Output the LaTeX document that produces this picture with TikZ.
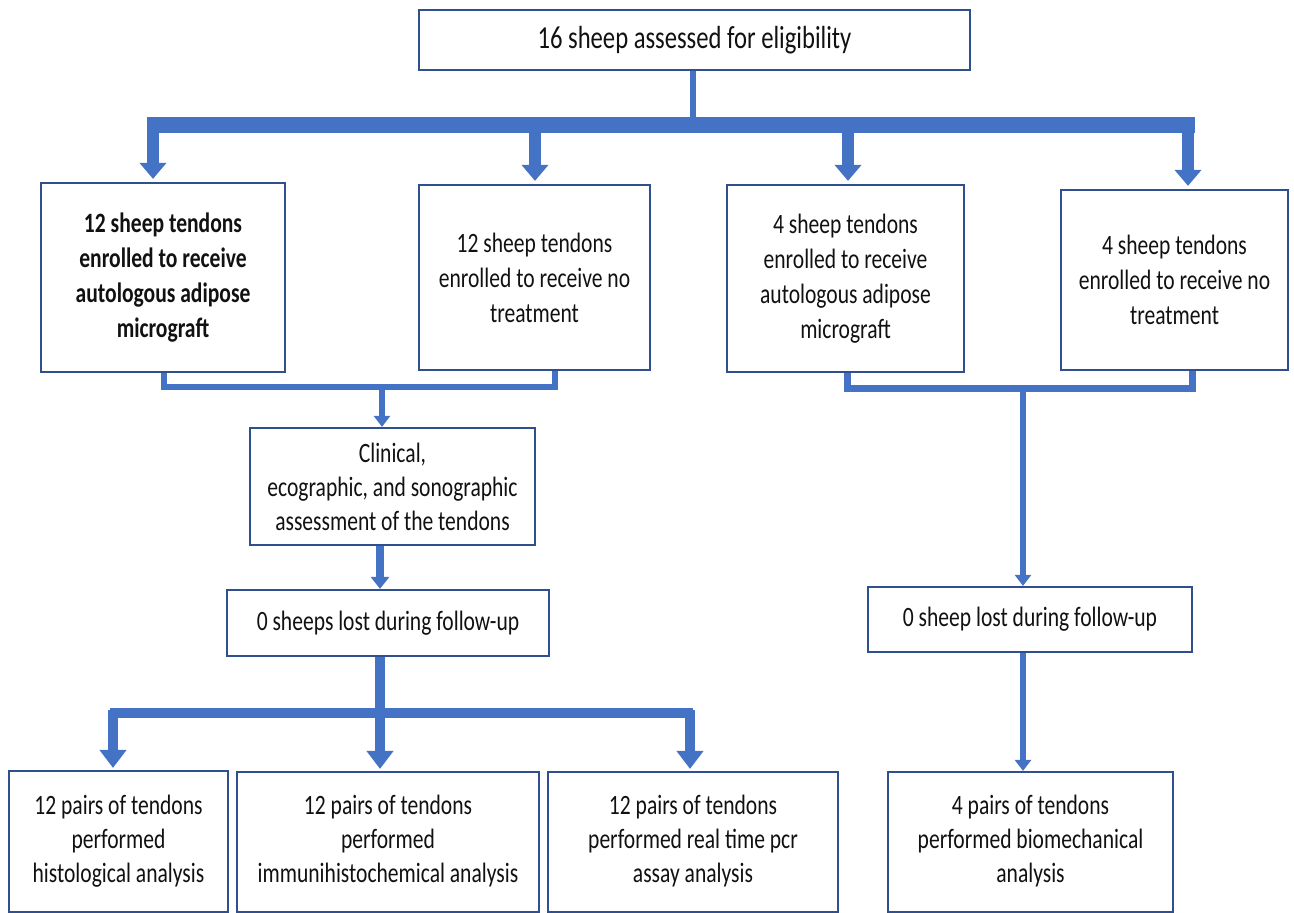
\documentclass[tikz,border=0pt]{standalone}
\usepackage{fontspec}
\setmainfont{Carlito}[FakeStretch=0.77]
\usetikzlibrary{arrows.meta}
\definecolor{arrblue}{HTML}{4472C4}
\definecolor{boxblue}{HTML}{2F4F8F}
\definecolor{txt}{HTML}{111111}
\newcommand{\liftup}[1]{\raisebox{4pt}{\begin{tabular}{@{}c@{}}#1\end{tabular}}}
\begin{document}
\begin{tikzpicture}[x=0.5pt,y=-0.5pt,
  box/.style={draw=boxblue, line width=1.1pt, fill=white, align=center, text=txt,
    font=\fontsize{14}{17}\selectfont, inner sep=0pt},
  bar/.style={draw=arrblue, line width=#1, line cap=butt},
  bigarr/.style={draw=arrblue, line width=6pt, -{Triangle[width=13pt,length=8pt]}},
  midarr/.style={draw=arrblue, line width=5pt, -{Triangle[width=13pt,length=9pt]}},
  smallarr/.style={draw=arrblue, line width=3pt, -{Triangle[width=8pt,length=5.5pt]}}
]
\useasboundingbox (0,0) rectangle (1294,913);
% boxes
\node[box, minimum width=275.5pt, minimum height=30pt, font=\fontsize{16}{17}\selectfont] (top) at (694.5,40) {16 sheep assessed for eligibility};
\node[box, minimum width=122pt, minimum height=94.5pt, font=\fontsize{14}{17.5}\selectfont\bfseries] (B1) at (163,277.5) {12 sheep tendons\\enrolled to receive\\autologous adipose\\micrograft};
\node[box, minimum width=115.5pt, minimum height=92.5pt, font=\fontsize{14}{17.5}\selectfont] (B2) at (534.5,277.5) {12 sheep tendons\\enrolled to receive no\\treatment};
\node[box, minimum width=118.5pt, minimum height=93.5pt, font=\fontsize{14}{17.5}\selectfont] (B3) at (845.5,278.5) {4 sheep tendons\\enrolled to receive\\autologous adipose\\micrograft};
\node[box, minimum width=113.5pt, minimum height=90pt, font=\fontsize{14}{17.5}\selectfont] (B4) at (1174.5,280) {4 sheep tendons\\enrolled to receive no\\treatment};
\node[box, minimum width=142.5pt, minimum height=58.5pt] (Clin) at (392.5,486.5) {Clinical,\\ecographic, and sonographic\\assessment of the tendons};
\node[box, minimum width=161pt, minimum height=33pt] (L0) at (388,623) {0 sheeps lost during follow-up};
\node[box, minimum width=162pt, minimum height=32.5pt] (R0) at (1030,619.5) {0 sheep lost during follow-up};
\node[box, minimum width=109.5pt, minimum height=70.5pt] (C1) at (118.5,841.5) {\liftup{12 pairs of tendons\\performed\\histological analysis}};
\node[box, minimum width=151pt, minimum height=70pt] (C2) at (388,842) {\liftup{12 pairs of tendons\\performed\\immunihistochemical analysis}};
\node[box, minimum width=145pt, minimum height=70pt] (C3) at (693,842) {\liftup{12 pairs of tendons\\performed real time pcr\\assay analysis}};
\node[box, minimum width=142.5pt, minimum height=70pt] (C4) at (1030.5,842) {\liftup{4 pairs of tendons\\performed biomechanical\\analysis}};
% top distribution
\coordinate (tbL) at (147,125.5);
\coordinate (tbR) at (1195,125.5);
\coordinate (t1) at (153,121);
\coordinate (t2) at (535,121);
\coordinate (t3) at (848,119);
\coordinate (t4) at (1188,121);
\draw[bar=3pt] (top.south -| 693,0) -- (693,118);
\draw[bar=8pt] (tbL) -- (tbR);
\draw[bigarr] (t1) -- ([yshift=1.5pt]t1 |- B1.north);
\draw[bigarr] (t2) -- ([yshift=1.5pt]t2 |- B2.north);
\draw[bigarr] (t3) -- ([yshift=1.5pt]t3 |- B3.north);
\draw[bigarr] (t4) -- ([yshift=1.5pt]t4 |- B4.north);
% left bracket
\coordinate (lb1) at (164,387);
\coordinate (lb2) at (555,387);
\coordinate (lbm) at (382,387);
\draw[bar=3pt, line join=miter] (lb1 |- B1.south) -- (lb1) -- (lb2) -- (lb2 |- B2.south);
\draw[smallarr] (lbm) -- (lbm |- Clin.north);
% right bracket
\coordinate (rb1) at (847,389);
\coordinate (rb2) at (1192,389);
\coordinate (rbm) at (1023,389);
\draw[bar=3.5pt, line join=miter] (rb1 |- B3.south) -- (rb1) -- (rb2) -- (rb2 |- B4.south);
\draw[smallarr] (rbm) -- (rbm |- R0.north);
% clinical to lost
\coordinate (cl) at (380,545);
\draw[draw=arrblue, line width=4pt, -{Triangle[width=9pt,length=6pt]}] (cl |- Clin.south) -- (cl |- L0.north);
% lower-left distribution
\coordinate (bbL) at (110,712.5);
\coordinate (bbR) at (693,712.5);
\coordinate (b1) at (113,710);
\coordinate (b2) at (380,710);
\coordinate (b3) at (690,710);
\draw[bar=5pt] (bbL) -- (bbR);
\draw[midarr] (b1) -- ([yshift=1pt]b1 |- C1.north);
\draw[midarr] (b2 |- L0.south) -- ([yshift=1pt]b2 |- C2.north);
\draw[midarr] (b3) -- ([yshift=1pt]b3 |- C3.north);
% right lost to biomechanical
\coordinate (rl) at (1023,700);
\draw[smallarr] (rl |- R0.south) -- (rl |- C4.north);
\end{tikzpicture}
\end{document}
